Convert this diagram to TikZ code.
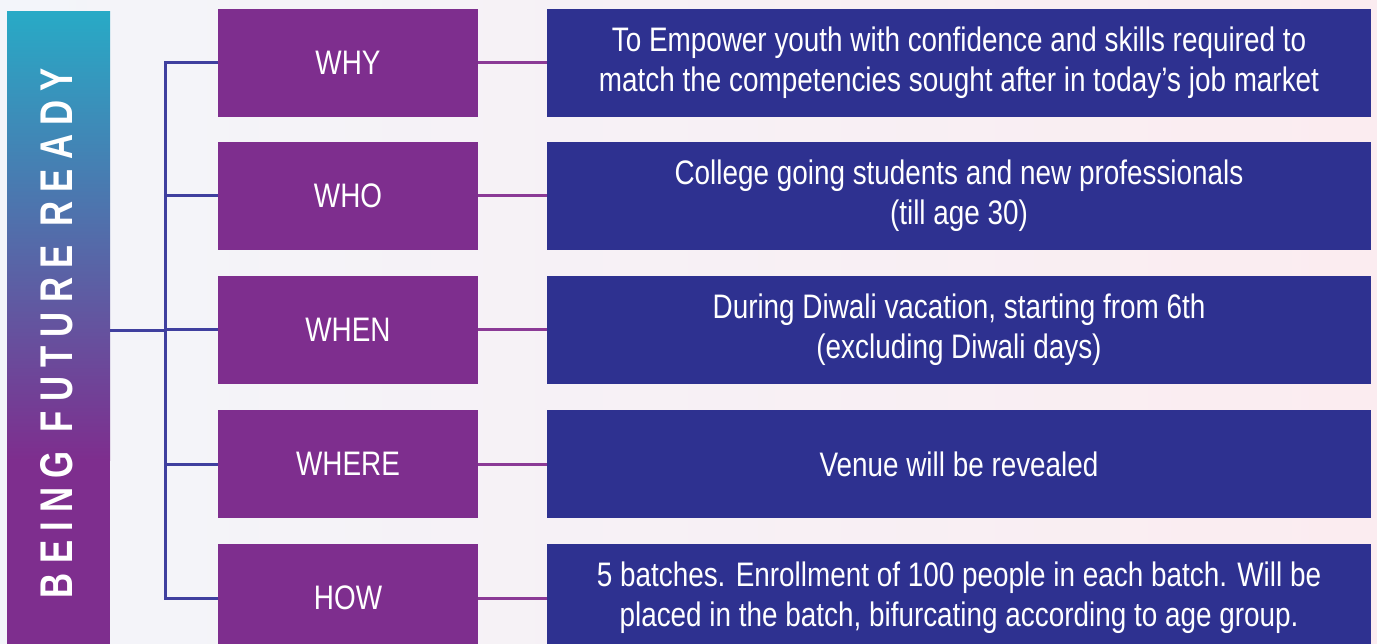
\documentclass[tikz,border=0pt]{standalone}
\usepackage{fontspec}
\setmainfont{Liberation Sans}
\newfontfamily\cond[FakeStretch=0.82]{Liberation Sans}
\newfontfamily\barfont[FakeStretch=0.68,LetterSpace=18]{Liberation Sans Bold}
\usetikzlibrary{positioning}
\definecolor{bgL}{HTML}{F3F5FA}
\definecolor{bgR}{HTML}{FBECF0}
\definecolor{teal1}{HTML}{28AAC6}
\definecolor{purp}{HTML}{7E2E8E}
\definecolor{navy}{HTML}{2E3190}
\definecolor{treeline}{HTML}{3F3F9F}
\definecolor{linkline}{HTML}{8B3A96}
\tikzset{
  qbox/.style={fill=purp, draw=none, minimum width=260pt, minimum height=108pt,
    inner sep=0pt, text=white, font=\cond\fontsize{34}{40}\selectfont},
  abox/.style={fill=navy, draw=none, minimum width=824pt, minimum height=108pt,
    inner sep=0pt, text=white, align=center, font=\cond\fontsize{34}{40}\selectfont},
  tree/.style={draw=treeline, line width=3pt},
  link/.style={draw=linkline, line width=3pt},
}
\begin{document}
\begin{tikzpicture}[x=1pt,y=-1pt]
\useasboundingbox (0,0) rectangle (1377,644);
\clip (0,0) rectangle (1377,644);
\shade[left color=bgL, right color=bgR] (0,0) rectangle (1377,644);
% left bar
\shade[top color=teal1, bottom color=purp] (7,12) rectangle (110,460);
\fill[purp] (7,459) rectangle (110,644);
\coordinate (barE) at (110,331);
\node[rotate=90, text=white, inner sep=0pt] (bartext) at (57,333)
  {\resizebox{530pt}{32pt}{\barfont BEING FUTURE READY}};
% question boxes
\node[qbox] (why)   at (348,63)  {WHY};
\node[qbox] (who)   at (348,196) {WHO};
\node[qbox] (when)  at (348,330) {WHEN};
\node[qbox] (where) at (348,464) {WHERE};
\node[qbox] (how)   at (348,598) {HOW};
% answer boxes
\node[abox] (awhy)   at (959,63)  {To Empower youth with confidence and skills required to\\match the competencies sought after in today’s job market};
\node[abox] (awho)   at (959,196) {College going students and new professionals\\(till age 30)};
\node[abox] (awhen)  at (959,330) {During Diwali vacation, starting from 6th\\(excluding Diwali days)};
\node[abox] (awhere) at (959,464) {Venue will be revealed};
\node[abox] (ahow)   at (959,598) {5 batches. Enrollment of 100 people in each batch. Will be\\placed in the batch, bifurcating according to age group.};
% tree
\coordinate (t1) at (165,63);
\coordinate (t2) at (165,196);
\coordinate (t3) at (165,330);
\coordinate (t4) at (165,464);
\coordinate (t5) at (165,598);
\coordinate (tj) at (165,331);
\draw[tree] (t1) -- (why.west);
\draw[tree] (t2) -- (who.west);
\draw[tree] (t3) -- (when.west);
\draw[tree] (t4) -- (where.west);
\draw[tree] (t5) -- (how.west);
\draw[tree, line cap=rect] (t1) -- (t5);
\draw[tree] (barE) -- (tj);
% links
\draw[link] (why.east) -- (awhy.west);
\draw[link] (who.east) -- (awho.west);
\draw[link] (when.east) -- (awhen.west);
\draw[link] (where.east) -- (awhere.west);
\draw[link] (how.east) -- (ahow.west);
\end{tikzpicture}
\end{document}
